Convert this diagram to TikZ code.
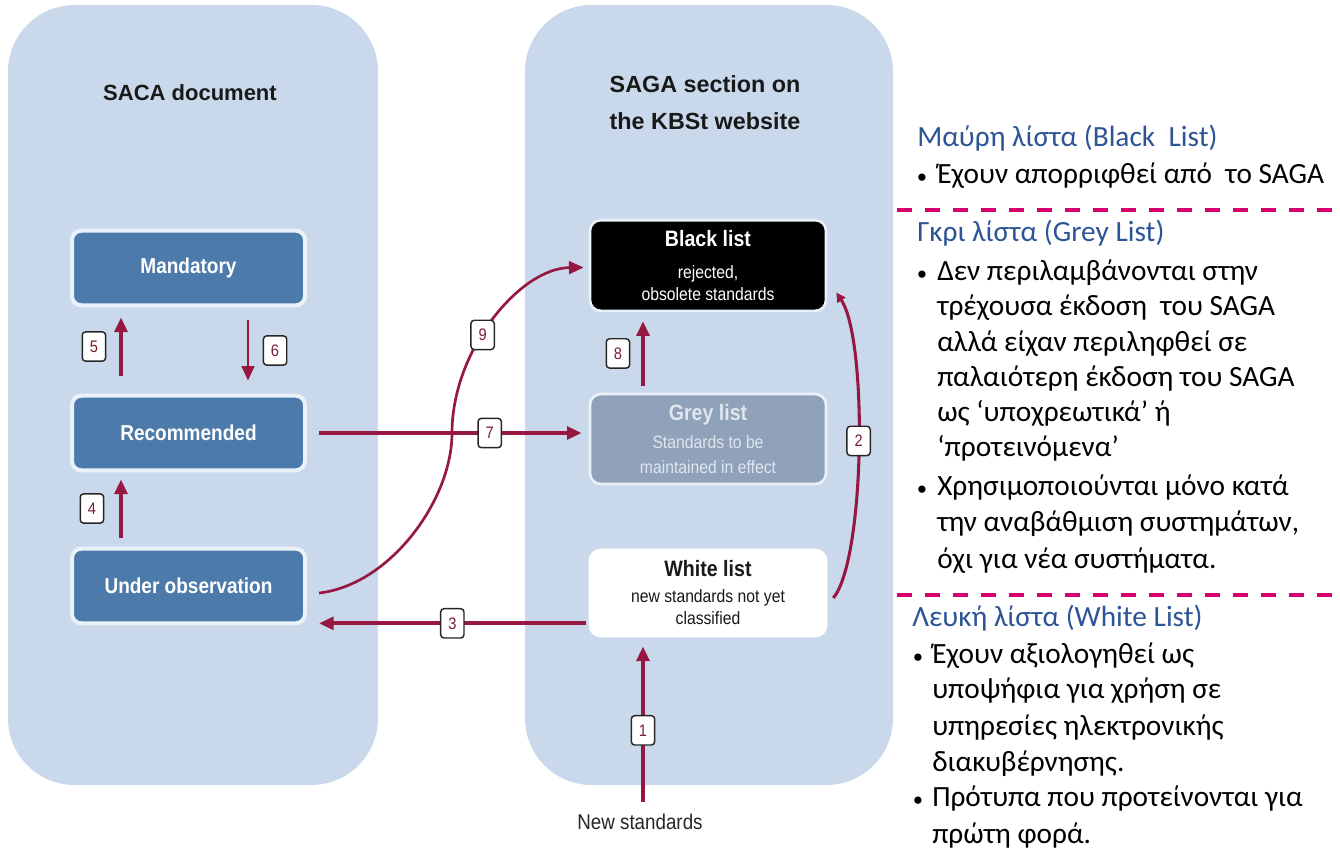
\documentclass[tikz,border=0pt]{standalone}
\usepackage{fontspec}
\setmainfont{Liberation Sans}
\newfontfamily\grfont{Carlito}
\newfontfamily\cnd[FakeStretch=0.88]{Liberation Sans}
\usetikzlibrary{arrows.meta,calc}

\definecolor{panel}{RGB}{201,217,235}
\definecolor{boxblue}{RGB}{76,122,170}
\definecolor{boxedge}{RGB}{234,241,249}
\definecolor{greybox}{RGB}{143,162,186}
\definecolor{greytext}{RGB}{224,230,238}
\definecolor{arrowred}{RGB}{150,24,66}
\definecolor{lblred}{RGB}{120,30,50}
\definecolor{headblue}{RGB}{44,84,150}
\definecolor{dashpink}{RGB}{214,0,110}

\newcommand{\hdf}{\cnd\bfseries\fontsize{16.7}{16.5}\selectfont}
\newcommand{\smf}{\cnd\mdseries\fontsize{13.4}{16.5}\selectfont}

\begin{document}
\begin{tikzpicture}[x=0.75pt,y=-0.75pt,
  panelbox/.style={fill=panel, draw=none, rounded corners=50pt},
  statebox/.style={fill=boxblue, draw=boxedge, line width=3pt, rounded corners=7pt,
    minimum width=174.75pt, minimum height=56pt, inner sep=0pt, text=white,
    font=\cnd\bfseries\fontsize{16.2}{18}\selectfont},
  listbox/.style={draw=boxedge, line width=2pt, rounded corners=8pt,
    minimum width=177pt, inner sep=0pt, align=center,
    font=\cnd\fontsize{13.4}{16.5}\selectfont},
  title/.style={font=\bfseries\fontsize{16.5}{18}\selectfont, text=black!90, inner sep=0pt},
  lbl/.style={draw=black!85, fill=white, rounded corners=2.5pt, line width=1.1pt,
    minimum width=17.5pt, minimum height=22pt, inner sep=0pt,
    font=\cnd\fontsize{12.5}{14}\selectfont, text=lblred},
  arr/.style={draw=arrowred, line width=3pt, -{Triangle[length=11pt,width=9.5pt]}},
  rt/.style={font=\grfont\fontsize{22}{26}\selectfont, inner sep=0pt, anchor=mid west},
  rh/.style={rt, text=headblue},
  bul/.style={font=\fontsize{20}{24}\selectfont, inner sep=0pt},
  sep/.style={draw=dashpink, line width=3pt, dash pattern=on 11.25pt off 9.75pt}
]
\useasboundingbox (0,0) rectangle (1340,854);
\fill[white] (0,0) rectangle (1340,854);

% panels
\path[panelbox] (8,5) rectangle (378,785);
\path[panelbox] (525,5) rectangle (893,785);

% titles
\node[title] (tl) at (190,93) {SACA document};
\node[title, align=center, font=\bfseries\fontsize{17.5}{27.75}\selectfont] (tr) at (705,103) {SAGA section on\\the KBSt website};

% SACA states
\node[statebox] (mand) at (188.5,268) {Mandatory};
\node[statebox] (rec) at (188.5,433) {Recommended};
\node[statebox] (obs) at (188.5,586) {Under observation};

% SAGA lists
\node[listbox, fill=black, text=white, minimum height=68pt] (blk) at (708,265.5)
  {\hdf Black list\\[7.5pt]\smf rejected,\\\smf obsolete standards};
\node[listbox, fill=greybox, text=greytext, minimum height=67.5pt] (gry) at (708,439)
  {\hdf Grey list\\[4.5pt]\smf Standards to be\\[2.25pt]\smf maintained in effect};
\node[listbox, fill=white, draw=white, text=black!90, minimum height=64.5pt] (wht) at (708,593)
  {\hdf White list\\[3pt]\smf new standards not yet\\\smf classified};

\node[inner sep=0pt, font=\cnd\fontsize{16}{18}\selectfont, text=black!85] (ns) at (640,822) {New standards};

% arrows within SACA
\draw[arr] ($(rec.north west)+(51,-18)$) -- ($(mand.south west)+(51,10)$) node[lbl, midway, left=11pt] {5};
\draw[arr, line width=2pt] ($(mand.south west)+(178,13)$) -- ($(rec.north west)+(178,-13)$) node[lbl, midway, right=11pt] {6};
\draw[arr] ($(obs.north west)+(51,-9)$) -- ($(rec.south west)+(51,7)$) node[lbl, midway, left=12.5pt] {4};

% curve 9
\draw[arr, line width=2pt] ($(obs.east)+(12,7)$) .. controls (390,585) and (452,500) .. (452,433)
  .. controls (452,350) and (520,268) .. ($(blk.west)+(-5,2)$) node[lbl, pos=0.42] {9};

% arrow 7
\draw[arr] ($(rec.east)+(12,0)$) -- ($(rec.east -| gry.west)+(-7,0)$) node[lbl, pos=0.65] {7};

% arrow 3
\draw[arr] ($(wht.south west)+(-3,-14)$) -- ($(wht.south west -| obs.east)+(12,-14)$) node[lbl, pos=0.5] {3};

% arrow 8
\draw[arr] ($(gry.north)+(-65,-7)$) -- ($(blk.south)+(-65,9)$) node[lbl, midway, left=9.5pt] {8};

% arrow 1
\draw[arr] ($(ns.north)+(3,-12)$) -- ($(wht.south)+(-65,9)$) node[lbl, pos=0.46] {1};

% curve 2
\draw[arr, line width=2.3pt, -{Triangle[length=7pt,width=7pt]}] ($(wht.east)+(6,5)$) .. controls (865,560) and (868,340) .. ($(blk.east)+(9,27)$) node[lbl, pos=0.52] {2};

% right-hand text
\node[rh] (bh) at (917,143) {Μαύρη λίστα (Black\ \ List)};
\node[bul] (b1) at (922,180) {•};
\node[rt] (b1t) at (937,180) {Έχουν απορριφθεί από\ \ το SAGA};
\coordinate (d1a) at (897,210);
\coordinate (d1b) at (1338,210);
\draw[sep] (d1a) -- (d1b);

\node[rh] (gh) at (917,238) {Γκρι λίστα (Grey List)};
\node[bul] (g1) at (922,277) {•};
\node[rt] (g1a) at (937,277) {Δεν περιλαμβάνονται στην};
\node[rt] (g1b) at (937,312) {τρέχουσα έκδοση\ \ του SAGA};
\node[rt] (g1c) at (937,348) {αλλά είχαν περιληφθεί σε};
\node[rt] (g1d) at (937,383) {παλαιότερη έκδοση του SAGA};
\node[rt] (g1e) at (937,418) {ως ‘υποχρεωτικά’ ή};
\node[rt] (g1f) at (937,453) {‘προτεινόμενα’};
\node[bul] (g2) at (922,492) {•};
\node[rt] (g2a) at (937,492) {Χρησιμοποιούνται μόνο κατά};
\node[rt] (g2b) at (937,528) {την αναβάθμιση συστημάτων,};
\node[rt] (g2c) at (937,565) {όχι για νέα συστήματα.};
\coordinate (d2a) at (897,595);
\coordinate (d2b) at (1338,595);
\draw[sep] (d2a) -- (d2b);

\node[rh] (wh) at (912,623) {Λευκή λίστα (White List)};
\node[bul] (w1) at (918,660) {•};
\node[rt] (w1a) at (932,660) {Έχουν αξιολογηθεί ως};
\node[rt] (w1b) at (932,695) {υποψήφια για χρήση σε};
\node[rt] (w1c) at (932,732) {υπηρεσίες ηλεκτρονικής};
\node[rt] (w1d) at (932,768) {διακυβέρνησης.};
\node[bul] (w2) at (918,803) {•};
\node[rt] (w2a) at (932,803) {Πρότυπα που προτείνονται για};
\node[rt] (w2b) at (932,840) {πρώτη φορά.};
\end{tikzpicture}
\end{document}
